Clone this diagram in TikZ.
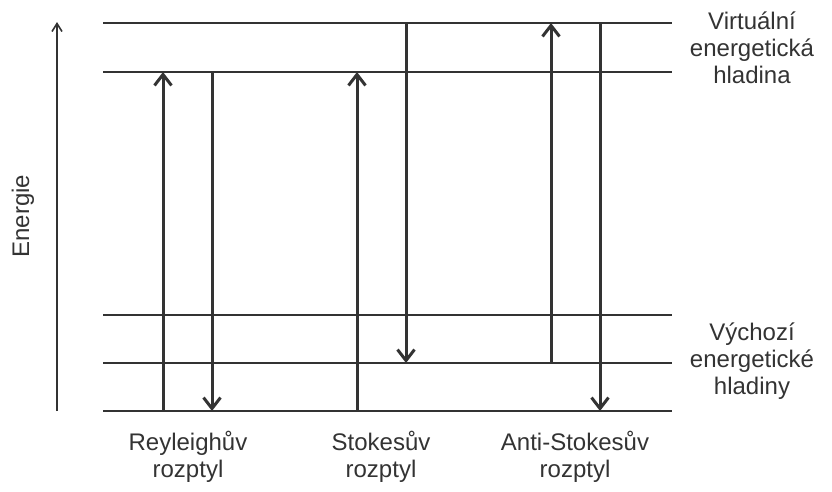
\documentclass[tikz,border=0pt]{standalone}
\usepackage{fontspec}
\setmainfont{Liberation Sans}
\usetikzlibrary{positioning, arrows.meta}
\definecolor{ink}{HTML}{333333}
\tikzset{
x=1pt, y=-1pt, % one unit per pixel of the picture
level/.style={draw=ink, line width=1.8pt}, % energy levels
transition/.style={draw=ink, line width=3pt, -{Straight Barb[length=11pt, width=17pt, line width=3pt]}}, % photon arrows
axis/.style={draw=ink, line width=1.6pt, -{Straight Barb[length=8pt, width=10pt, line width=1.6pt]}}, % energy axis
caption/.style={text=ink, align=center, font={\fontsize{24pt}{27pt}\selectfont}}, % texts
}

\begin{document}
\begin{tikzpicture}
    \useasboundingbox (0,0) rectangle (832,491);
    % levels
    \foreach \y/\n in {23/virtB, 72/virtA, 315/baseC, 363/baseB, 411/baseA}
        \draw[level] (103,\y) coordinate (\n w) -- (672,\y) coordinate (\n e);
    % arrow columns
    \coordinate (rayUp) at (163,0);
    \coordinate (rayDown) at (212,0);
    \coordinate (stoUp) at (357,0);
    \coordinate (stoDown) at (406,0);
    \coordinate (antiUp) at (551,0);
    \coordinate (antiDown) at (600,0);
    \draw[transition] (rayUp |- baseAw) -- (rayUp |- virtAw);
    \draw[transition] (rayDown |- virtAw) -- (rayDown |- baseAw);
    \draw[transition] (stoUp |- baseAw) -- (stoUp |- virtAw);
    \draw[transition] (stoDown |- virtBw) -- (stoDown |- baseBw);
    \draw[transition] (antiUp |- baseBw) -- (antiUp |- virtBw);
    \draw[transition] (antiDown |- virtBw) -- (antiDown |- baseAw);
    % energy axis
    \coordinate (axisLow) at (57,411);
    \coordinate (axisHigh) at (57,22);
    \draw[axis] (axisLow) -- (axisHigh);
    \node[caption, rotate=90] (energy) at (23,216) {Energie};
    % texts
    \node[caption] (virtText) at (752,48) {Virtuální\\energetická\\hladina};
    \node[caption] (baseText) at (752,361) {Výchozí\\energetické\\hladiny};
    \node[caption] (rayText) at (188,457) {Reyleighův\\rozptyl};
    \node[caption] (stoText) at (381,457) {Stokesův\\rozptyl};
    \node[caption] (antiText) at (575,457) {Anti-Stokesův\\rozptyl};
\end{tikzpicture}
\end{document}
